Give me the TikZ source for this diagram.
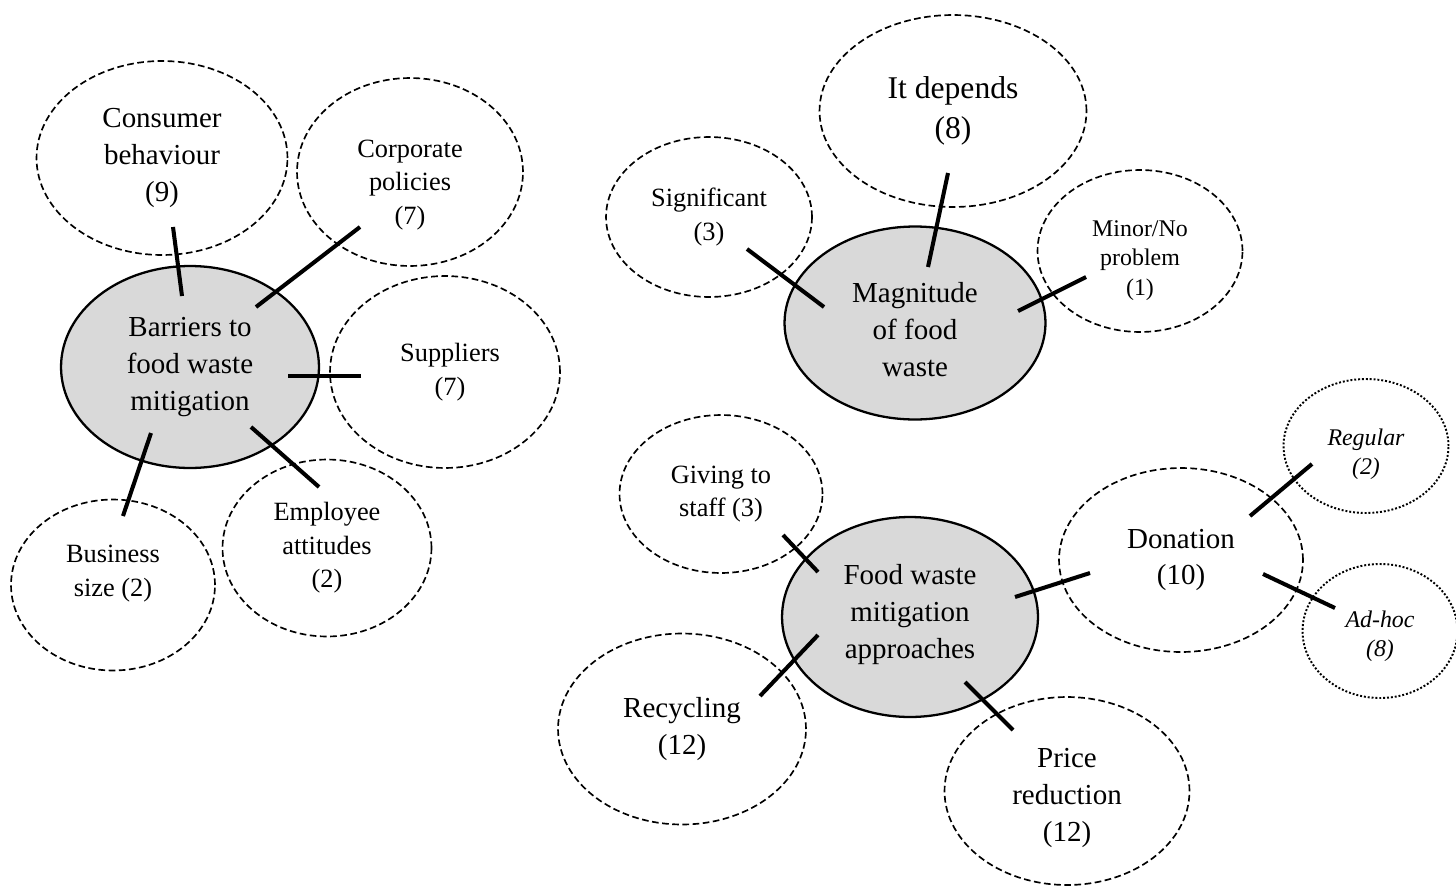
\documentclass[tikz,border=0pt]{standalone}
\usepackage{fontspec}
\setmainfont{Liberation Serif}
\usepackage{tikz}
\usetikzlibrary{shapes.geometric, calc}

\definecolor{corefill}{RGB}{217,217,217}

\newcommand{\bigtxt}{\fontsize{16.5}{21}\selectfont}
\newcommand{\midtxt}{\fontsize{15}{19}\selectfont}
\newcommand{\smalltxt}{\fontsize{13.6}{17}\selectfont}
% lift or drop a text block inside its ellipse
\newcommand{\nudge}[2]{\raisebox{#1}[\height][\depth]{\begin{tabular}{@{}c@{}}#2\end{tabular}}}

\begin{document}
\begin{tikzpicture}[
  x=0.02cm, y=-0.02cm,
  core/.style   = {draw, ellipse, line width=1.3pt, fill=corefill, inner sep=0pt, align=center, font=\bigtxt},
  bubble/.style = {draw, ellipse, line width=0.95pt, dash pattern=on 3.8pt off 2pt, inner sep=0pt, align=center},
  sub/.style    = {draw, ellipse, line width=1.1pt, dash pattern=on 1.1pt off 1.1pt, inner sep=0pt, align=center, font=\smalltxt\itshape},
  link/.style   = {line width=2.3pt}
]
  \useasboundingbox (0,0) rectangle (1456,889);

  % barriers cluster
  \node[core, minimum width=5.16cm, minimum height=4.04cm] (barriers) at (190,367)
    {Barriers to\\ food waste\\ mitigation};
  \node[bubble, font=\bigtxt, minimum width=5.02cm, minimum height=3.88cm] (consumer) at (162,158)
    {Consumer\\ behaviour\\ (9)};
  \node[bubble, font=\midtxt, minimum width=4.52cm, minimum height=3.76cm] (corporate) at (410,172)
    {\nudge{-0.24cm}{Corporate\\ policies\\ (7)}};
  \node[bubble, font=\midtxt, minimum width=4.6cm, minimum height=3.84cm] (suppliers) at (445,372)
    {\hspace*{0.2cm}Suppliers\\ \hspace*{0.2cm}(7)};
  \node[bubble, font=\midtxt, minimum width=4.18cm, minimum height=3.54cm] (employee) at (327,548)
    {Employee\\ attitudes\\ (2)};
  \node[bubble, font=\midtxt, minimum width=4.08cm, minimum height=3.42cm] (business) at (113,585)
    {\nudge{0.24cm}{Business\\ size (2)}};

  \draw[link] ($(consumer)+(11,69)$) -- ($(barriers)+(-8,-71)$);
  \draw[link] ($(corporate)+(-50,55)$) -- ($(barriers)+(66,-60)$);
  \draw[link] ($(suppliers)+(-84,4)$) -- ($(barriers)+(98,9)$);
  \draw[link] ($(employee)+(-8,-61)$) -- ($(barriers)+(61,60)$);
  \draw[link] ($(business)+(10,-69)$) -- ($(barriers)+(-39,66)$);

  % magnitude cluster
  \node[core, minimum width=5.22cm, minimum height=3.86cm] (magnitude) at (915,323)
    {\nudge{-0.18cm}{Magnitude\\ of food\\ waste}};
  \node[bubble, font=\fontsize{18}{23}\selectfont, minimum width=5.34cm, minimum height=3.84cm] (depends) at (953,111)
    {It depends\\ (8)};
  \node[bubble, font=\midtxt, minimum width=4.12cm, minimum height=3.2cm] (significant) at (709,217)
    {Significant\\ (3)};
  \node[bubble, font=\smalltxt, minimum width=4.1cm, minimum height=3.24cm] (minor) at (1140,251)
    {\nudge{-0.18cm}{Minor/No\\ problem\\ (1)}};

  \draw[link] ($(depends)+(-5,62)$) -- ($(magnitude)+(13,-56)$);
  \draw[link] ($(significant)+(38,32)$) -- ($(magnitude)+(-91,-16)$);
  \draw[link] ($(minor)+(-54,26)$) -- ($(magnitude)+(103,-12)$);

  % approaches cluster
  \node[core, minimum width=5.12cm, minimum height=4.0cm] (approaches) at (910,617)
    {\nudge{0.06cm}{Food waste\\ mitigation\\ approaches}};
  \node[bubble, font=\midtxt, minimum width=4.06cm, minimum height=3.16cm] (giving) at (721,494)
    {Giving to\\ staff (3)};
  \node[bubble, font=\bigtxt, minimum width=4.96cm, minimum height=3.82cm] (recycling) at (682,729)
    {Recycling\\ (12)};
  \node[bubble, font=\bigtxt, minimum width=4.9cm, minimum height=3.76cm] (price) at (1067,791)
    {\nudge{-0.12cm}{Price\\ reduction\\ (12)}};
  \node[bubble, font=\bigtxt, minimum width=4.88cm, minimum height=3.68cm] (donation) at (1181,560)
    {Donation\\ (10)};

  % donation sub-types
  \node[sub, minimum width=3.3cm, minimum height=2.68cm] (regular) at (1366,446)
    {\nudge{-0.16cm}{Regular\\ (2)}};
  \node[sub, minimum width=3.1cm, minimum height=2.68cm] (adhoc) at (1380,631)
    {\nudge{-0.1cm}{Ad-hoc\\ (8)}};

  \draw[link] ($(giving)+(62,41)$) -- ($(approaches)+(-92,-45)$);
  \draw[link] ($(recycling)+(78,-33)$) -- ($(approaches)+(-92,18)$);
  \draw[link] ($(price)+(-54,-61)$) -- ($(approaches)+(55,65)$);
  \draw[link] ($(donation)+(-91,13)$) -- ($(approaches)+(105,-20)$);
  \draw[link] ($(regular)+(-54,18)$) -- ($(donation)+(69,-44)$);
  \draw[link] ($(adhoc)+(-45,-23)$) -- ($(donation)+(82,14)$);

\end{tikzpicture}
\end{document}
